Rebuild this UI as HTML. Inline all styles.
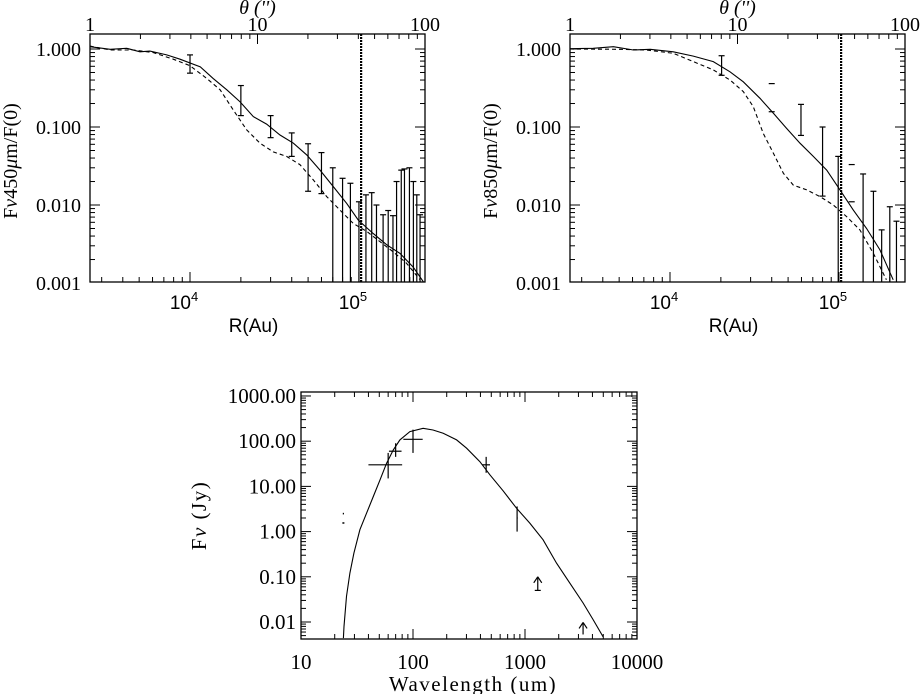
<!DOCTYPE html>
<html><head><meta charset="utf-8">
<style>
html,body{margin:0;padding:0;background:#fff;}
svg{display:block;}
text{fill:#000;}
.num{font-family:"Liberation Serif",serif;font-size:20px;}
.snum{font-family:"Liberation Serif",serif;font-size:21px;}
.lab{font-family:"Liberation Sans",sans-serif;font-size:19px;}
</style></head>
<body>
<svg id="fig" width="920" height="694" viewBox="0 0 920 694" xmlns="http://www.w3.org/2000/svg"></svg>
<script>
// ---------- Top-left panel data (450 micron) ----------
const tlSolidR = [2560,3370,4220,5060,5790,7280,8730,11500,13700,16500,19800,23700,28400,34100,40900,49000,58800,70500,84600,99100,121600,145800,175000,209600,240300];
const tlSolidV = [1.07,0.99,1.02,0.92,0.94,0.84,0.74,0.59,0.42,0.30,0.21,0.136,0.109,0.079,0.062,0.044,0.028,0.0172,0.0105,0.0064,0.0043,0.0031,0.0024,0.0016,0.00104];
const tlDashR = [2560,3370,4620,6070,7960,10000,12560,15060,18050,21640,25950,31100,37300,44700,53700,64400,77200,92600,111000,133000,160000,191000,230000];
const tlDashV = [1.09,0.97,0.97,0.90,0.74,0.61,0.42,0.30,0.165,0.092,0.062,0.048,0.042,0.033,0.021,0.0128,0.0086,0.0058,0.0046,0.0034,0.0025,0.0018,0.0011];
const tlErrR  = [10000,20000,30000,40000,50000,60000,70000,80000,89000,100000,110000,119000,127000,139000,149000,159000,167000,178000,186000,199000,210000,220000,230000];
const tlErrHi = [0.84,0.34,0.14,0.084,0.061,0.047,0.030,0.022,0.019,0.011,0.0135,0.0144,0.010,0.0075,0.0085,0.0073,0.020,0.028,0.029,0.030,0.020,0.0135,0.0075];
const tlErrLo = [0.49,0.14,0.073,0.042,0.015,0.014,0.0001,0.0001,0.0001,0.0001,0.0001,0.0001,0.0001,0.0001,0.0001,0.0001,0.0001,0.0001,0.0001,0.0001,0.0001,0.0001,0.0001];
// ---------- Top-right panel data (850 micron) ----------
const trSolidR = [2560,3510,4620,6070,7630,10460,13740,18050,22650,27170,34100,40900,49000,58800,70500,84600,101400,121600,145800,175000,209600];
const trSolidV = [1.01,1.02,1.07,0.97,0.99,0.92,0.81,0.69,0.51,0.38,0.233,0.150,0.096,0.062,0.042,0.028,0.0156,0.0086,0.0050,0.00265,0.0011];
const trDashR = [2560,5060,7280,10460,13740,18050,22650,27170,31100,35600,40900,46900,53700,64400,77200,92600,111000,133000,160000,191000];
const trDashV = [1.0,0.99,0.97,0.88,0.69,0.54,0.40,0.284,0.182,0.083,0.046,0.0255,0.018,0.0156,0.0128,0.0100,0.0071,0.0048,0.0024,0.0011];
const trErrR  = [20200,59600,80000,99000,139000,160000,179000,200000,219000];
const trErrHi = [0.82,0.195,0.10,0.042,0.025,0.015,0.0048,0.0095,0.0062];
const trErrLo = [0.46,0.078,0.013,0.0001,0.0001,0.0001,0.0001,0.0001,0.0001];
const trCapR  = [40000,119000];
const trCapHi = [0.36,0.033];
const trCapLo = [0.157,0.011];
// ---------- SED data ----------
const sedLam = [23.9,24.2,25.5,27.3,29.7,33.6,38.5,44.2,50.7,58.1,66.7,76.4,93.8,123,151,186,245,301,395,486,638,839,1104,1452,1910,2512,3304,4058,4980];
const sedF   = [0.0044,0.008,0.037,0.121,0.334,1.10,2.56,5.97,13.9,32.6,64.1,107,163,193,177,150,107,69.8,35.4,18.0,8.0,3.3,1.54,0.659,0.201,0.0727,0.0263,0.0113,0.0047];
const obsLam   = [60,70,100,450,850];
const obsF     = [30,60,110,30,2.0];
const obsLamLo = [40,61,82,415,840];
const obsLamHi = [80,79,122,487,860];
const obsFLo   = [15,45,55,20,1.0];
const obsFHi   = [55,90,180,45,3.6];
const limLam  = [1300,3300];
const limBase = [0.05,0.0053];
const limTip  = [0.10,0.0098];
const xTickLbl = ["10","100","1000","10000"];
const yTickLbl = ["0.01","0.10","1.00","10.00","100.00","1000.00"];
const tTickLbl = ["1","10","100"];
const vTickLbl = ["0.001","0.010","0.100","1.000"];

const NS="http://www.w3.org/2000/svg";
const svg=document.getElementById('fig');
function mk(tag,attrs,parent){const e=document.createElementNS(NS,tag);for(const k in attrs)e.setAttribute(k,attrs[k]);(parent||svg).appendChild(e);return e;}
function axes(x0,x1,y0,y1,lx0,lx1,ly0,ly1){
  return {X:v=>x0+(Math.log10(v)-lx0)/(lx1-lx0)*(x1-x0),Y:v=>y1-(Math.log10(v)-ly0)/(ly1-ly0)*(y1-y0),x0,x1,y0,y1,lx0,lx1,ly0,ly1};
}
function clampY(a,y){return Math.min(a.y1,Math.max(a.y0,y));}
function polyline(a,xs,ys,dash,name){
  const pts=xs.map((x,i)=>a.X(x).toFixed(1)+','+clampY(a,a.Y(ys[i])).toFixed(1)).join(' ');
  const p=mk('polyline',{points:pts,fill:'none',stroke:'#000','stroke-width':1.1});
  if(dash)p.setAttribute('stroke-dasharray',dash);
  
  
}
function line(x1,y1,x2,y2,w,g){return mk('line',{x1,y1,x2,y2,stroke:'#000','stroke-width':w||1},g);}
function text(x,y,s,cls,anchor,g){const t=mk('text',{x,y,'class':cls,'text-anchor':anchor||'middle'},g);t.textContent=s;return t;}
function logTicksY(a,g){
  for(let d=Math.floor(a.ly0);d<=Math.ceil(a.ly1);d++){for(let m=1;m<10;m++){const v=m*Math.pow(10,d);const lv=Math.log10(v);if(lv<a.ly0-1e-6||lv>a.ly1+1e-6)continue;const y=a.Y(v);const L=m===1?10:5;line(a.x0,y,a.x0+L,y,1,g);line(a.x1,y,a.x1-L,y,1,g);}}
}
function logTicksX(a,g,top,bottom){
  for(let d=Math.floor(a.lx0);d<=Math.ceil(a.lx1);d++){for(let m=1;m<10;m++){const v=m*Math.pow(10,d);const lv=Math.log10(v);if(lv<a.lx0-1e-6||lv>a.lx1+1e-6)continue;const x=a.X(v);const L=m===1?10:5;if(bottom)line(x,a.y1,x,a.y1-L,1,g);if(top)line(x,a.y0,x,a.y0+L,1,g);}}
}
function errBars(a,xs,hi,lo,name){
  xs.forEach((x,i)=>{
    const g=mk('g',{});
    
    
    const px=a.X(x),yh=clampY(a,a.Y(hi[i])),yl=clampY(a,a.Y(lo[i]));
    line(px,yh,px,yl,1.2,g);line(px-3,yh,px+3,yh,1.2,g);
    if(yl<a.y1)line(px-3,yl,px+3,yl,1.2,g);
  });
}
function radialPanel(a,name,ytitle,solidR,solidV,dashR,dashV){
  const g=mk('g',{});
  
  
  const r=mk('rect',{x:a.x0,y:a.y0,width:a.x1-a.x0,height:a.y1-a.y0,fill:'none',stroke:'#000','stroke-width':1.3},g);
  
  
  logTicksY(a,g);logTicksX(a,g,false,true);
  for(let d=0;d<2;d++)for(let m=1;m<10;m++){const x=a.x0+(d+Math.log10(m))/2*(a.x1-a.x0);line(x,a.y0,x,a.y0+(m===1?10:5),1,g);}
  tTickLbl.forEach((s,i)=>{const t=text(a.x0+i/2*(a.x1-a.x0),a.y0-3,s,'num','middle',g);});
  const th=text(a.x0+0.5*(a.x1-a.x0),14,"θ ('')",'num','middle',g);th.setAttribute('font-style','italic');th.setAttribute('font-size','17');
  
  vTickLbl.forEach((s,i)=>{const t=text(a.x0-9,a.Y(Math.pow(10,i-3))+7,s,'num','end',g);});
  [4,5].forEach(e=>{const t=mk('text',{x:a.X(Math.pow(10,e))-6,y:a.y1+27,'class':'lab','text-anchor':'middle'},g);t.innerHTML='10<tspan dy="-8" font-size="13">'+e+'</tspan>';});
  const xt=text((a.x0+a.x1)/2-4,a.y1+50,'R(Au)','lab','middle',g);
  const yt=mk('text',{x:0,y:0,'class':'num','text-anchor':'middle','font-size':'21',transform:'translate('+(a.x0-73)+','+((a.y0+a.y1)/2+3)+') rotate(-90)'},g);
  yt.innerHTML=ytitle;
  const vx=a.X(103000);const vl=line(vx,a.y0,vx,a.y1,2.2,g);vl.setAttribute('stroke-dasharray','2,1');
  
  polyline(a,solidR,solidV,null,'model-solid-curve');
  polyline(a,dashR,dashV,'4,3','model-dashed-curve');
}
const A=axes(90,425,34,282,3.408,5.391,-2.987,0.1923);
radialPanel(A,'panel-450um','F<tspan font-style="italic">ν</tspan>450<tspan font-style="italic">μ</tspan>m/F(0)',tlSolidR,tlSolidV,tlDashR,tlDashV);
errBars(A,tlErrR,tlErrHi,tlErrLo,'data-error-bar');
const B=axes(570,905,34,282,3.408,5.391,-2.987,0.1923);
radialPanel(B,'panel-850um','F<tspan font-style="italic">ν</tspan>850<tspan font-style="italic">μ</tspan>m/F(0)',trSolidR,trSolidV,trDashR,trDashV);
errBars(B,trErrR,trErrHi,trErrLo,'data-error-bar');
trCapR.forEach((x,i)=>{const g=mk('g',{});
  
  
  const px=B.X(x);line(px-3,B.Y(trCapHi[i]),px+3,B.Y(trCapHi[i]),1.2,g);line(px-3,B.Y(trCapLo[i]),px+3,B.Y(trCapLo[i]),1.2,g);});
const C=axes(301,637,392,639,1,4,-2.376,3.088);
const gs=mk('g',{});


const fr=mk('rect',{x:C.x0,y:C.y0,width:C.x1-C.x0,height:C.y1-C.y0,fill:'none',stroke:'#000','stroke-width':1.3},gs);


logTicksY(C,gs);logTicksX(C,gs,true,true);
yTickLbl.forEach((s,i)=>{const t=text(C.x0-5,C.Y(Math.pow(10,i-2))+7,s,'snum','end',gs);});
xTickLbl.forEach((s,i)=>{const t=text(C.X(Math.pow(10,i+1)),C.y1+30,s,'snum','middle',gs);});
const sx=text((C.x0+C.x1)/2+4,C.y1+52,'Wavelength (um)','snum','middle',gs);sx.setAttribute('letter-spacing','1.5');
const sy=mk('text',{x:0,y:0,'class':'snum','text-anchor':'middle','letter-spacing':'1.5',transform:'translate(206,'+((C.y0+C.y1)/2)+') rotate(-90)'},gs);
sy.innerHTML='F<tspan font-style="italic">ν</tspan> (Jy)';
polyline(C,sedLam,sedF,null,'sed-model-curve');
obsLam.forEach((l,i)=>{const g=mk('g',{});
  
  
  const px=C.X(l),py=C.Y(obsF[i]);
  line(C.X(obsLamLo[i]),py,C.X(obsLamHi[i]),py,1.2,g);line(px,C.Y(obsFLo[i]),px,C.Y(obsFHi[i]),1.2,g);});
limLam.forEach((l,i)=>{const g=mk('g',{});
  
  
  const px=C.X(l),yb=C.Y(limBase[i]),yt=C.Y(limTip[i]);
  line(px,yb,px,yt,1.2,g);line(px,yt,px-4,yt+6,1.2,g);line(px,yt,px+4,yt+6,1.2,g);
  if(i===0)line(px-3,yb,px+3,yb,1.2,g);});
const dm=mk('g',{});


line(C.X(23.9),C.Y(2.6),C.X(23.9),C.Y(2.4),1.2,dm);line(C.X(23.9)-1,C.Y(1.55),C.X(23.9)+1,C.Y(1.55),1.5,dm);
</script>
</body></html>
